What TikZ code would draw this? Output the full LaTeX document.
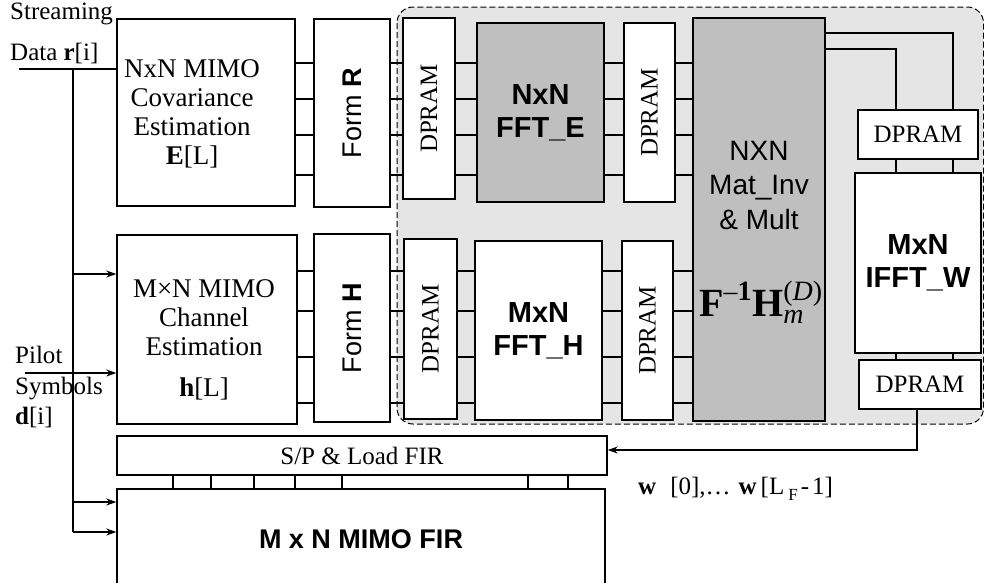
\documentclass[tikz,border=0pt]{standalone}
\usepackage{fontspec}
\usepackage{amsmath}
\setmainfont{Liberation Serif}
\setsansfont{Liberation Sans}
\usetikzlibrary{arrows.meta}

\newcommand\vdpram{\rotatebox{90}{DPRAM}}

\begin{document}
\begin{tikzpicture}[x=1pt, y=-1pt,
  blk/.style={draw, line width=1.4pt, fill=white, inner sep=0pt, align=center},
  hot/.style={blk, line width=2.4pt, fill=gray!50},
  wire/.style={line width=1.2pt},
  arr/.style={wire, -{Stealth[length=10pt,width=7pt]}},
  tnr/.style={font=\fontsize{25}{29}\selectfont},
  tnrb/.style={font=\fontsize{27}{29}\selectfont},
  ari/.style={font=\sffamily\fontsize{28}{34.5}\selectfont},
  arib/.style={font=\sffamily\bfseries\fontsize{29}{33}\selectfont}]
\useasboundingbox (0,0) rectangle (984,582);
\clip (0,0) rectangle (984,582);

% shaded part
\draw[dash pattern=on 6pt off 3pt, line width=1pt, fill=gray!20, rounded corners=16pt] (397,7) rectangle (983.5,424);

% upper row
\node[blk, minimum width=178, minimum height=187] (cov) at (206,112.5) {};
\node[tnrb, align=center] (covtxt) at (192,114) {NxN MIMO\\Covariance\\Estimation\\\textbf{E}[L]};
\node[blk, minimum width=76, minimum height=188] (formR) at (352,113) {\rotatebox{90}{\sffamily\fontsize{27}{27}\selectfont Form \textbf{R}}};
\node[blk, tnr, minimum width=52, minimum height=181] (dpA) at (429,108.5) {\vdpram};
\node[hot, arib, minimum width=127, minimum height=179] (fftE) at (540.5,112.5) {NxN\\FFT\_E};
\node[blk, tnr, minimum width=51, minimum height=179] (dpB) at (649.5,112.5) {\vdpram};
\node[hot, minimum width=132, minimum height=403] (matinv) at (759,219.5) {};
\node[ari, align=center] (mtxt) at (759,185) {NXN\\Mat\_Inv\\\& Mult};
\node[font=\fontsize{40}{40}\selectfont] (mform) at (761,302) {$\textbf{F}^{\textrm{--}\textbf{1}}\textbf{H}_{\textit{m}}^{\textrm{(}\textit{D}\textrm{)}}$};
\node[blk, tnr, minimum width=120, minimum height=49] (dpC) at (918,134.5) {DPRAM};
\node[blk, arib, minimum width=126, minimum height=180] (ifft) at (918,263) {MxN\\IFFT\_W};
\node[blk, tnr, minimum width=122, minimum height=49] (dpD) at (920,384.5) {DPRAM};

% lower row
\node[blk, minimum width=180, minimum height=189] (chan) at (207,329.5) {};
\node[tnrb, align=center] (chantxt) at (204,340) {M×N MIMO\\Channel\\Estimation\\[12pt]\textbf{h}[L]};
\node[blk, minimum width=76, minimum height=188] (formH) at (352,328) {\rotatebox{90}{\sffamily\fontsize{27}{27}\selectfont Form \textbf{H}}};
\node[blk, tnr, minimum width=53, minimum height=180] (dpE) at (430.5,329) {\vdpram};
\node[blk, arib, minimum width=127, minimum height=179] (fftH) at (538.5,330.5) {MxN\\FFT\_H};
\node[blk, tnr, minimum width=51, minimum height=179] (dpF) at (647.5,330.5) {\vdpram};

% filter
\node[blk, tnr, minimum width=490, minimum height=39] (sp) at (362,455.5) {S/P \& Load FIR};
\node[blk, font=\sffamily\bfseries\fontsize{27}{27}\selectfont, minimum width=488, minimum height=101] (fir) at (361,539.5) {M x N MIMO FIR};

% buses
\foreach \a/\b in {cov/formR, formR/dpA, dpA/fftE, fftE/dpB, dpB/matinv}
{
	\foreach \y in {63,99,135,175}
		\draw[wire] (\a.east |- 0,\y) -- (\b.west |- 0,\y);
}
\foreach \a/\b in {chan/formH, formH/dpE, dpE/fftH, fftH/dpF, dpF/matinv}
{
	\foreach \y in {271,311,357,403}
		\draw[wire] (\a.east |- 0,\y) -- (\b.west |- 0,\y);
}
\draw[wire] (matinv.east |- 0,33) -| (dpC.north -| 953,0);
\draw[wire] (matinv.east |- 0,49) -| (dpC.north -| 896,0);
\foreach \x in {896,953}
{
	\draw[wire] (dpC.south -| \x,0) -- (ifft.north -| \x,0);
	\draw[wire] (ifft.south -| \x,0) -- (dpD.north -| \x,0);
}
\draw[arr] (dpD.south -| 917,0) |- (sp.east |- 0,450);
\foreach \x in {173,211,254,295,342,528,568}
	\draw[wire] (sp.south -| \x,0) -- (fir.north -| \x,0);

% inputs
\coordinate (rin) at (19,69);
\coordinate (tap) at (73,69);
\coordinate (pin) at (25,373);
\draw[wire] (rin) -- (rin -| cov.west);
\draw[wire] (tap) -- (73,532);
\draw[arr] (tap |- 0,274) -- (chan.west |- 0,274);
\draw[arr] (pin) -- (pin -| chan.west);
\foreach \y in {502,532}
	\draw[arr] (tap |- 0,\y) -- (fir.west |- 0,\y);

% labels
\node[tnr, anchor=base west, inner sep=0pt] (strm) at (10,19) {Streaming};
\node[tnr, anchor=base west, inner sep=0pt] (rdat) at (10,60) {Data \textbf{r}[i]};
\node[tnr, anchor=base west, inner sep=0pt] (plt) at (15,363) {Pilot};
\node[tnr, anchor=base west, inner sep=0pt] (sym) at (15,394) {Symbols};
\node[tnr, anchor=base west, inner sep=0pt] (ddat) at (15,424) {\textbf{d}[i]};
\node[tnr, anchor=base west, inner sep=0pt] (wlab) at (638,494) {\textbf{w}\hspace{14pt}[0],\ldots\hspace{8pt}\textbf{w}\hspace{4pt}[L\hspace{4pt}\raisebox{-6pt}{\fontsize{17}{17}\selectfont F}\hspace{3pt}-\hspace{3pt}1]};
\end{tikzpicture}
\end{document}
